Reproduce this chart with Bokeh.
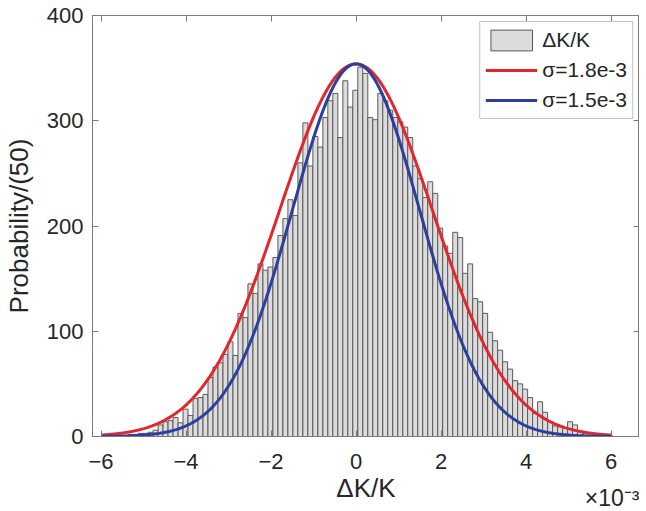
import numpy as np
from bokeh.plotting import figure
from bokeh.models import (Range1d, LinearAxis, Legend, LegendItem, FixedTicker,
                          CustomJSTickFormatter, Title)
from bokeh.embed import file_html
from bokeh.resources import INLINE

# ---- data (x in units of 1e-3) ----
bin_start = -5.95
bin_width = 0.1175
counts = [1, 0, 1, 1, 1, 2, 2, 3, 3, 4,
          6, 11, 14, 15, 18, 13, 26, 20, 36, 37,
          40, 56, 66, 70, 78, 90, 77, 117, 113, 145,
          136, 164, 158, 161, 170, 191, 207, 225, 210, 260,
          298, 257, 285, 275, 303, 319, 326, 284, 338, 313,
          329, 351, 345, 303, 301, 326, 319, 310, 303, 299,
          294, 284, 257, 245, 227, 242, 231, 198, 181, 174,
          194, 189, 155, 164, 131, 128, 117, 99, 91, 82,
          71, 64, 53, 50, 45, 37, 22, 33, 23, 14,
          10, 9, 8, 14, 11, 5, 3, 3, 2, 2,
          1, 1, 0]
peak = 354
sigma_red = 1.8
sigma_blue = 1.5
curve_min, curve_max = -6.0, 6.0
x_ticks = [-6, -4, -2, 0, 2, 4, 6]
y_ticks = [0, 100, 200, 300, 400]
series_labels = ["ΔK/K", "σ=1.8e-3", "σ=1.5e-3"]
x_label = "ΔK/K"
x_exponent = "×10⁻³"
y_label = "Probability/(50)"

FONT = "Liberation Sans"
AXC = "#7a7a7a"
TXT = "#262626"

lefts = bin_start + bin_width * np.arange(len(counts))
rights = lefts + bin_width
xs = np.linspace(curve_min, curve_max, 600)
y_red = peak * np.exp(-xs**2 / (2 * sigma_red**2))
y_blue = peak * np.exp(-xs**2 / (2 * sigma_blue**2))

p = figure(width=639, height=511, output_backend="svg", toolbar_location=None,
           x_range=Range1d(-6.2, 6.67), y_range=Range1d(0, 400),
           min_border_left=84, min_border_right=0, min_border_top=15, min_border_bottom=75)
p.xgrid.visible = False
p.ygrid.visible = False
p.outline_line_color = AXC
p.background_fill_color = "white"
p.border_fill_color = "white"

hist = p.quad(left=lefts, right=rights, top=counts, bottom=0,
              fill_color="#dcdcdc", line_color="#5a5a5a", line_width=1)
lr = p.line(xs, y_red, line_color="#e3262c", line_width=3)
lb = p.line(xs, y_blue, line_color="#2c3e9e", line_width=3)

blank = CustomJSTickFormatter(code="return ''")

def style_axis(ax, labels=True):
    ax.axis_line_color = AXC
    ax.major_tick_line_color = AXC
    ax.major_tick_in = 6
    ax.major_tick_out = 0
    ax.minor_tick_line_color = None
    ax.major_label_text_font = FONT
    ax.major_label_text_color = TXT
    if labels:
        ax.major_label_text_font_size = "22px"
    else:
        ax.formatter = blank
        ax.major_label_text_font_size = "1px"
        ax.major_label_standoff = 0

p.xaxis.ticker = FixedTicker(ticks=x_ticks)
p.yaxis.ticker = FixedTicker(ticks=y_ticks)
style_axis(p.xaxis[0])
style_axis(p.yaxis[0])
p.xaxis.major_label_standoff = 17
p.yaxis.major_label_standoff = 9
p.xaxis.axis_label = x_label
p.yaxis.axis_label = y_label
for ax in (p.xaxis[0], p.yaxis[0]):
    ax.axis_label_text_font = FONT
    ax.axis_label_text_font_size = "26px"
    ax.axis_label_text_font_style = "normal"
    ax.axis_label_text_color = TXT
p.xaxis.axis_label_standoff = 1
p.yaxis.axis_label_standoff = 10

top_ax = LinearAxis(ticker=FixedTicker(ticks=x_ticks))
style_axis(top_ax, labels=False)
p.add_layout(top_ax, "above")
right_ax = LinearAxis(ticker=FixedTicker(ticks=y_ticks))
style_axis(right_ax, labels=False)
p.add_layout(right_ax, "right")

legend = Legend(items=[LegendItem(label=series_labels[0], renderers=[hist]),
                       LegendItem(label=series_labels[1], renderers=[lr]),
                       LegendItem(label=series_labels[2], renderers=[lb])],
                location="top_right")
legend.label_text_font = FONT
legend.label_text_font_size = "21px"
legend.label_text_color = TXT
legend.glyph_width = 52
legend.glyph_height = 26
legend.label_standoff = 5
legend.padding = 5
legend.spacing = 4
legend.margin = 6
legend.border_line_color = "#8a8a8a"
legend.border_line_width = 1
legend.background_fill_color = "white"
legend.background_fill_alpha = 1
p.add_layout(legend)

exp_title = Title(text=x_exponent, align="right", vertical_align="top", standoff=-42,
                  text_font=FONT, text_font_size="23px", text_font_style="normal",
                  text_color=TXT)
p.add_layout(exp_title, "below")

open("out.html", "w").write(file_html(p, INLINE))
